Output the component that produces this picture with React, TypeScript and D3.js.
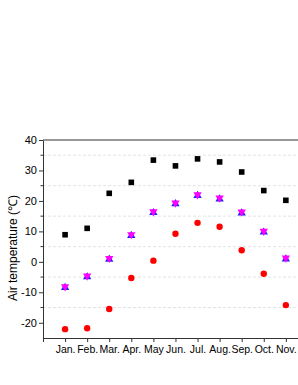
import { useEffect, useRef } from "react";
import * as d3 from "d3";

const months = ["Jan.", "Feb.", "Mar.", "Apr.", "May", "Jun.", "Jul.", "Aug.", "Sep.", "Oct.", "Nov.", "Dec."];
const tMax = [8.9, 11.0, 22.5, 26.1, 33.4, 31.5, 33.8, 32.8, 29.5, 23.4, 20.2, 14];
const tMean = [-8.3, -4.8, 1.0, 8.8, 16.3, 19.2, 21.9, 20.8, 16.2, 9.9, 1.1, -5];
const tMin = [-22.1, -21.8, -15.5, -5.3, 0.4, 9.2, 12.8, 11.5, 3.8, -3.9, -14.2, -20];
const yMajor = [-20, -10, 0, 10, 20, 30, 40];
const yMinor = [-15, -5, 5, 15, 25, 35];

const width = 298;
const height = 385;
const marginTop = 140;
const marginLeft = 43;
const plotRight = 330;
const plotBottom = 338;
const font = "Liberation Sans, Arial, sans-serif";

export default function App() {
  const ref = useRef<SVGSVGElement>(null);

  useEffect(() => {
    if (!ref.current) return;
    const svg = d3.select(ref.current);
    svg.selectAll("*").remove();

    const x = d3.scaleLinear().domain([0, 13]).range([marginLeft, plotRight]);
    const y = d3.scaleLinear().domain([-25, 40]).range([plotBottom, marginTop]);

    // dashed grid at minor values
    svg
      .append("g")
      .selectAll("line")
      .data(yMinor)
      .join("line")
      .attr("x1", marginLeft)
      .attr("x2", plotRight)
      .attr("y1", (d) => y(d))
      .attr("y2", (d) => y(d))
      .attr("stroke", "#dcdcdc")
      .attr("stroke-width", 0.8)
      .attr("stroke-dasharray", "3,2");

    // top frame
    svg
      .append("line")
      .attr("x1", marginLeft)
      .attr("x2", plotRight)
      .attr("y1", y(40))
      .attr("y2", y(40))
      .attr("stroke", "#333")
      .attr("stroke-width", 1);

    // left axis
    const yAxis = svg
      .append("g")
      .attr("transform", `translate(${marginLeft},0)`)
      .call(
        d3
          .axisLeft(y)
          .tickValues(yMajor)
          .tickSize(4)
          .tickSizeOuter(0)
          .tickFormat((d) => `${d}`)
      );
    yAxis.select(".domain").attr("stroke", "#333");
    yAxis.selectAll(".tick line").attr("stroke", "#333");
    yAxis
      .selectAll(".tick text")
      .attr("font-family", font)
      .attr("font-size", 11)
      .attr("fill", "#000")
      .attr("x", -6);

    svg
      .append("g")
      .selectAll("line")
      .data(yMinor)
      .join("line")
      .attr("x1", marginLeft - 2.5)
      .attr("x2", marginLeft)
      .attr("y1", (d) => y(d))
      .attr("y2", (d) => y(d))
      .attr("stroke", "#333");

    // bottom axis
    const xAxis = svg
      .append("g")
      .attr("transform", `translate(0,${plotBottom})`)
      .call(
        d3
          .axisBottom(x)
          .tickValues(d3.range(0, 13))
          .tickSize(4)
          .tickSizeOuter(0)
          .tickFormat((d) => (+d >= 1 ? months[+d - 1] : ""))
      );
    xAxis.select(".domain").attr("stroke", "#333");
    xAxis.selectAll(".tick line").attr("stroke", "#333");
    xAxis
      .selectAll(".tick text")
      .attr("font-family", font)
      .attr("font-size", 10.5)
      .attr("fill", "#000")
      .attr("y", 8);

    // y label
    svg
      .append("text")
      .attr("transform", `translate(17,248) rotate(-90)`)
      .attr("text-anchor", "middle")
      .attr("font-family", font)
      .attr("font-size", 12)
      .text("Air temperature (℃)");

    const idx = d3.range(months.length);

    // Tmax squares
    svg
      .append("g")
      .selectAll("rect")
      .data(idx)
      .join("rect")
      .attr("x", (i) => x(i + 1) - 2.8)
      .attr("y", (i) => y(tMax[i]) - 2.8)
      .attr("width", 5.6)
      .attr("height", 5.6)
      .attr("fill", "#000");

    // Tmean: blue up triangle + magenta down triangle
    const tri = d3.symbol().type(d3.symbolTriangle).size(30);
    svg
      .append("g")
      .selectAll("path")
      .data(idx)
      .join("path")
      .attr("transform", (i) => `translate(${x(i + 1)},${y(tMean[i]) + 0.5})`)
      .attr("d", tri())
      .attr("fill", "#2020ff");
    svg
      .append("g")
      .selectAll("path")
      .data(idx)
      .join("path")
      .attr("transform", (i) => `translate(${x(i + 1)},${y(tMean[i]) - 0.5}) rotate(180)`)
      .attr("d", tri())
      .attr("fill", "#ff00ff");

    // Tmin circles
    svg
      .append("g")
      .selectAll("circle")
      .data(idx)
      .join("circle")
      .attr("cx", (i) => x(i + 1))
      .attr("cy", (i) => y(tMin[i]))
      .attr("r", 3.2)
      .attr("fill", "#ff0000");
  }, []);

  return (
    <svg
      ref={ref}
      width={width}
      height={height}
      style={{ position: "absolute", left: 0, top: 0, background: "#fff" }}
    />
  );
}
